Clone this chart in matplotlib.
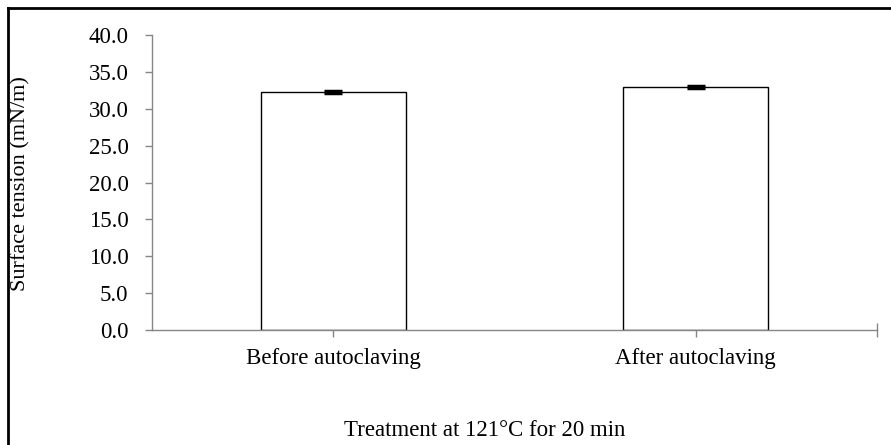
import matplotlib
matplotlib.use("Agg")
import matplotlib.pyplot as plt
from matplotlib.lines import Line2D

categories = ["Before autoclaving", "After autoclaving"]
values = [32.3, 33.0]
errors = [0.15, 0.15]
yticks = [0, 5, 10, 15, 20, 25, 30, 35, 40]

plt.rcParams['font.family'] = ['Liberation Serif', 'DejaVu Serif']

W, H = 891, 445
fig = plt.figure(figsize=(W/100, H/100), dpi=100)
ax = fig.add_axes([152/W, 1-330/H, (877-152)/W, (330-35)/H])

x = list(range(len(categories)))
ax.bar(x, values, width=0.4, color='white', edgecolor='black', linewidth=1.0, zorder=2)
ax.errorbar(x, values, yerr=errors, fmt='none', ecolor='black', elinewidth=1.0,
            capsize=6.5, capthick=2.5, zorder=3)

fs = 16.5
ax.set_xlim(-0.5, 1.5)
ax.set_ylim(0, 40)
ax.set_yticks(yticks)
ax.set_yticklabels([f"{v:.1f}" for v in yticks], fontsize=fs)
ax.set_xticks(x + [1.5])
ax.set_xticklabels(categories + [""], fontsize=fs)

gray = '#868686'
for s in ['top', 'right']:
    ax.spines[s].set_visible(False)
for s in ['left', 'bottom']:
    ax.spines[s].set_color(gray)
    ax.spines[s].set_linewidth(1.0)
ax.tick_params(axis='y', direction='out', length=5, color=gray, width=1.0, pad=12)
ax.tick_params(axis='x', direction='inout', length=10, color=gray, width=1.0, pad=8)

fig.text(21/W, 1-184/H, "Surface tension (mN/m)", fontsize=16, rotation=90,
         ha='center', va='center')
fig.text(485/W, 1-430/H, "Treatment at 121\u00b0C for 20 min", fontsize=fs,
         ha='center', va='center')

# outer border (left and top only visible)
fig.add_artist(Line2D([7.5/W, 7.5/W], [0, 1-7.5/H], transform=fig.transFigure,
                      color='black', linewidth=2.0))
fig.add_artist(Line2D([7.5/W, 1], [1-7.5/H, 1-7.5/H], transform=fig.transFigure,
                      color='black', linewidth=2.0))

fig.savefig("out.png", dpi=100)
